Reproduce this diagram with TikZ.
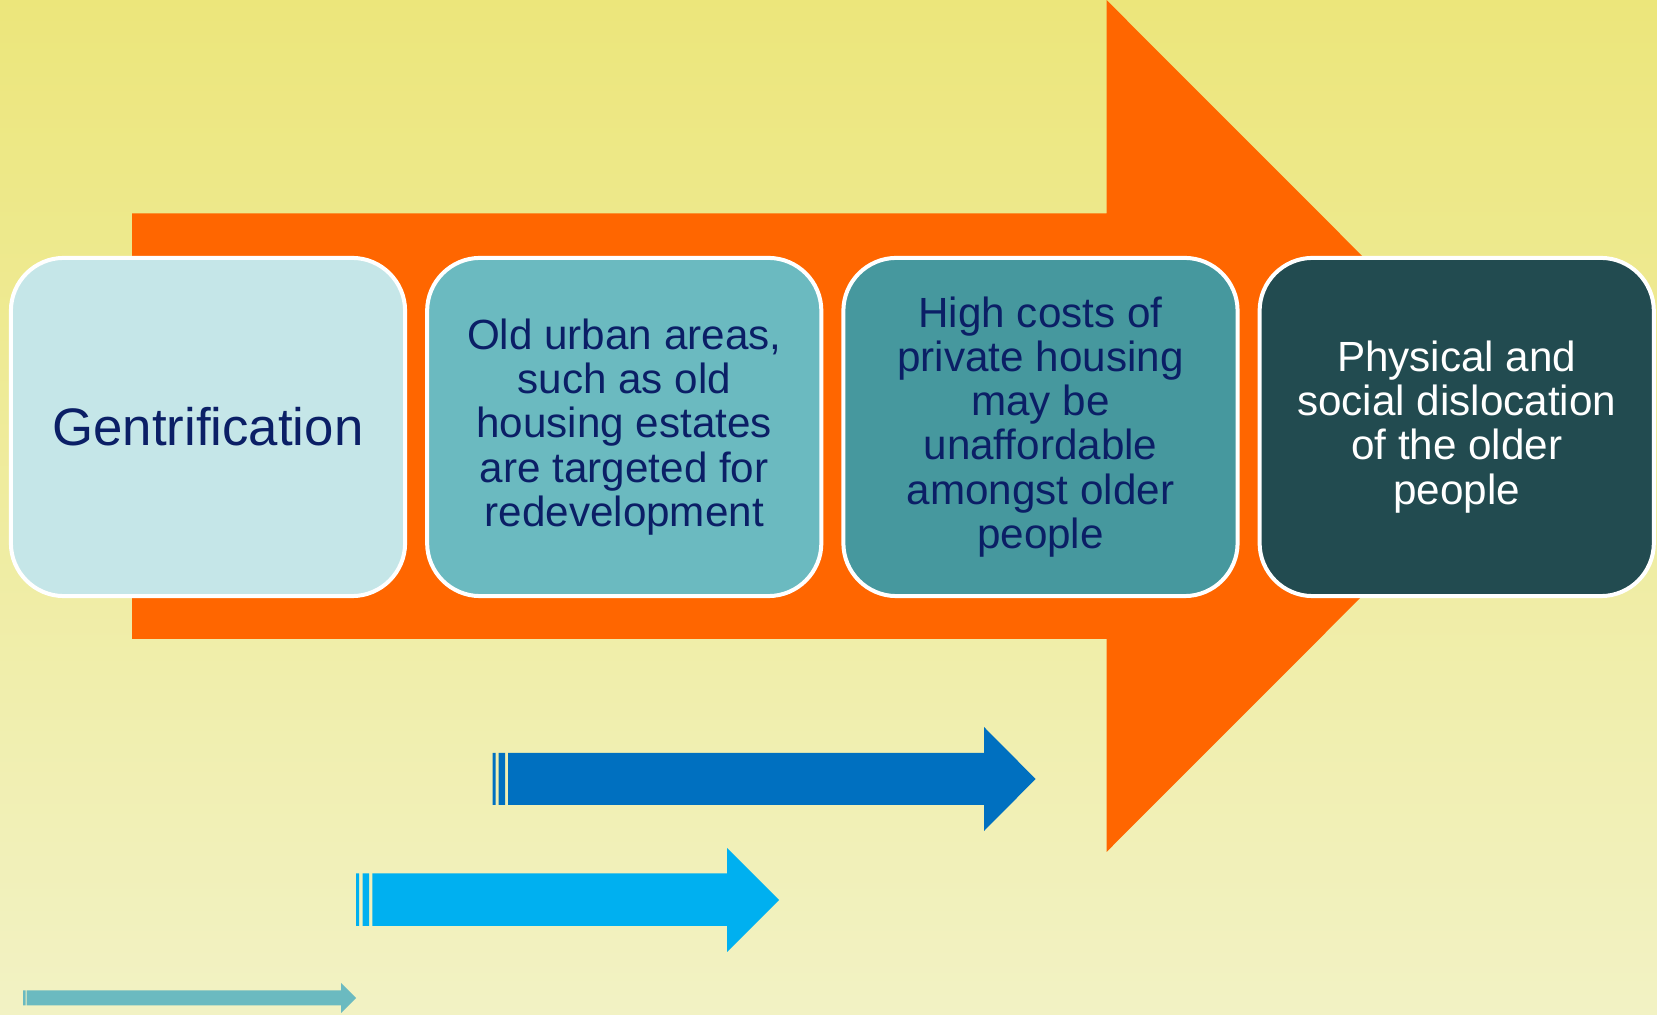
\documentclass[tikz,border=0pt]{standalone}
\usepackage{xcolor}
\usepackage{fontspec}
\setmainfont{Liberation Sans}
\usetikzlibrary{positioning}

\definecolor{bgtop}{HTML}{ECE67B}
\definecolor{bgmid}{HTML}{EEEC8E}
\definecolor{bgbottom}{HTML}{F2F2C4}
\definecolor{flow}{HTML}{FF6600}
\definecolor{navytext}{HTML}{0B1F66}
\definecolor{stepA}{HTML}{C5E6E8}
\definecolor{stepB}{HTML}{6BBAC0}
\definecolor{stepC}{HTML}{46989E}
\definecolor{stepD}{HTML}{224B50}
\definecolor{darkblue}{HTML}{0070C0}
\definecolor{lightblue}{HTML}{00B0F0}

\begin{document}
\begin{tikzpicture}[x=0.01cm, y=0.01cm,
      node distance=1.8mm,
      stage/.style={rectangle, rounded corners=5.3mm, draw=white, line width=0.4mm,
        minimum width=3.94cm, minimum height=3.38cm, align=center,
        font=\fontsize{12}{12.55}\selectfont, text=navytext}
      ]
      % background
      \shade[top color=bgtop, middle color=bgmid, bottom color=bgbottom]
        (0,0) rectangle (1657,1015);
      \useasboundingbox (0,0) rectangle (1657,1015);

      % big orange arrow
      \fill[flow] (132,801.5) -- (1106.5,801.5) -- (1106.5,1015) -- (1532,589)
        -- (1106.5,163) -- (1106.5,376) -- (132,376) -- cycle;

      % small arrows
      \fill[darkblue] (492.5,210) rectangle (495.5,262)
        (498.7,210) rectangle (505,262)
        (508,210) -- (984,210) -- (984,184) -- (1035.6,236) -- (984,288) -- (984,262) -- (508,262) -- cycle;
      \fill[lightblue] (356,89) rectangle (359,141.5)
        (362.7,89) rectangle (369,141.5)
        (372.3,89) -- (727,89) -- (727,63) -- (779,115) -- (727,167) -- (727,141.5) -- (372.3,141.5) -- cycle;
      \fill[stepB] (23,9.5) rectangle (25.7,24.5)
        (26.5,9.5) -- (341,9.5) -- (341,2) -- (356,17) -- (341,32) -- (341,24.5) -- (26.5,24.5) -- cycle;

      % stages
      \node[stage, fill=stepA, font=\fontsize{15}{18}\selectfont] (gentrif) at (208,588) {Gentrification};
      \node[stage, fill=stepB, right=of gentrif] (targeted) {Old urban areas,\\such as old\\housing estates\\are targeted for\\redevelopment};
      \node[stage, fill=stepC, right=of targeted] (costs) {High costs of\\private housing\\may be\\unaffordable\\amongst older\\people};
      \node[stage, fill=stepD, text=white, right=of costs] (dislocation) {Physical and\\social dislocation\\of the older\\people};
    \end{tikzpicture}
\end{document}
